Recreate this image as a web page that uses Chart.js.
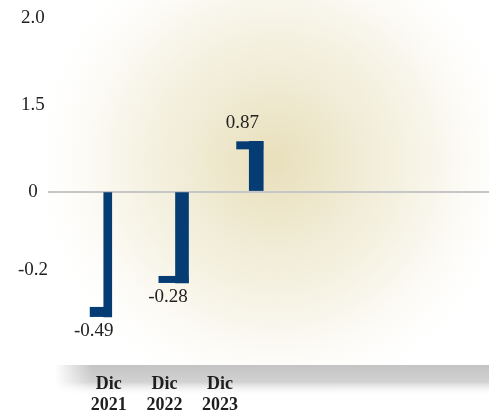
<!DOCTYPE html>
<html>
<head>
<meta charset="utf-8">
<script src="https://cdn.jsdelivr.net/npm/chart.js@4/dist/chart.umd.min.js"></script>
<style>
  html, body { margin: 0; padding: 0; background: #fff; }
  #wrap { width: 489px; height: 416px; position: relative; }
</style>
</head>
<body>
<div id="wrap"><canvas id="myChart"></canvas></div>
<script>
// data
const periods = ['Dic 2021', 'Dic 2022', 'Dic 2023'];
const values = [-0.49, -0.28, 0.87];
const yTickValues = [-0.2, 0, 1.5, 2.0];
const yTickLabels = ['-0.2', '0', '1.5', '2.0'];

// the value axis in the original is broken: piecewise, [value, share of height from bottom]
const yKnots = [[-0.75, 0], [-0.2, 0.261], [0, 0.491], [1.5, 0.745], [2.0, 1]];

// bar look: shaft width, foot width, foot height
const shaftWidths = [8, 13, 14];
const footWidths = [22, 30, 27];
const footHeights = [10, 7, 8];
const navy = '#053c73';
const serif = '"Liberation Serif", "Times New Roman", serif';

const warp = (v) => {
    for (let i = 0; i < yKnots.length - 1; i++) {
        const [v0, f0] = yKnots[i], [v1, f1] = yKnots[i + 1];
        if (v <= v1 || i === yKnots.length - 2) {
            return f0 + (v - v0) / (v1 - v0) * (f1 - f0);
        }
    }
};
const unwarp = (f) => {
    for (let i = 0; i < yKnots.length - 1; i++) {
        const [v0, f0] = yKnots[i], [v1, f1] = yKnots[i + 1];
        if (f <= f1 || i === yKnots.length - 2) {
            return v0 + (f - f0) / (f1 - f0) * (v1 - v0);
        }
    }
};

class BrokenScale extends Chart.LinearScale {
    getPixelForValue(value) {
        return this.getPixelForDecimal(warp(value));
    }
    getValueForPixel(pixel) {
        return unwarp(this.getDecimalForPixel(pixel));
    }
}
BrokenScale.id = 'broken';
BrokenScale.defaults = {};
Chart.register(BrokenScale);

const backdrop = {
    id: 'backdrop',
    beforeDraw(chart) {
        const ctx = chart.ctx;
        const w = chart.width, h = chart.height;
        ctx.save();
        ctx.fillStyle = '#fff';
        ctx.fillRect(0, 0, w, h);
        const glow = ctx.createRadialGradient(275, 162, 0, 275, 162, 250);
        glow.addColorStop(0, '#e8dfbb');
        glow.addColorStop(0.35, '#f1ecd6');
        glow.addColorStop(0.7, '#faf8f0');
        glow.addColorStop(1, 'rgba(255,255,255,0)');
        ctx.fillStyle = glow;
        ctx.fillRect(0, 0, w, h);

        // grey shadow strip behind the period labels
        const top = chart.chartArea.bottom + 6;
        const band = ctx.createLinearGradient(0, top, 0, top + 31);
        band.addColorStop(0, '#c4c4c4');
        band.addColorStop(0.55, '#d2d2d2');
        band.addColorStop(1, 'rgba(255,255,255,0)');
        ctx.fillStyle = band;
        ctx.fillRect(55, top, w - 55, 31);
        const fade = ctx.createLinearGradient(55, 0, 92, 0);
        fade.addColorStop(0, 'rgba(255,255,255,1)');
        fade.addColorStop(1, 'rgba(255,255,255,0)');
        ctx.fillStyle = fade;
        ctx.fillRect(55, top, 37, 31);
        ctx.restore();
    }
};

const feet = {
    id: 'feet',
    afterDatasetsDraw(chart) {
        const ctx = chart.ctx;
        ctx.save();
        chart.data.datasets.forEach((ds, i) => {
            const bar = chart.getDatasetMeta(i).data[0];
            const right = bar.x + bar.width / 2;
            const neg = bar.y > bar.base;
            ctx.fillStyle = navy;
            ctx.fillRect(right - footWidths[i], neg ? bar.y - footHeights[i] : bar.y, footWidths[i], footHeights[i]);

            ctx.fillStyle = '#222';
            ctx.font = '19px ' + serif;
            ctx.textAlign = 'center';
            ctx.textBaseline = 'middle';
            ctx.fillText(values[i].toFixed(2), bar.x - 14, neg ? bar.y + 14 : bar.y - 18);
        });
        ctx.restore();
    }
};

const datasets = values.map((v, i) => ({
    label: periods[i],
    data: [{ x: i, y: v }],
    backgroundColor: navy,
    barThickness: shaftWidths[i],
    grouped: false,
    borderWidth: 0
}));

new Chart(document.getElementById('myChart').getContext('2d'), {
    type: 'bar',
    data: { datasets },
    plugins: [backdrop, feet],
    options: {
        responsive: true,
        maintainAspectRatio: false,
        animation: false,
        layout: { padding: { top: 18, left: 0, right: 0, bottom: 0 } },
        plugins: { legend: { display: false }, tooltip: { enabled: false } },
        scales: {
            x: {
                type: 'linear',
                display: false,
                offset: false,
                min: -0.805,
                max: 5.135
            },
            xl: {
                type: 'linear',
                position: 'bottom',
                offset: false,
                min: -1.09,
                max: 6.828,
                grid: { display: false, drawTicks: false, offset: false },
                border: { display: false },
                afterBuildTicks: (scale) => { scale.ticks = periods.map((p, i) => ({ value: i })); },
                afterFit: (scale) => { scale.height = 57; },
                ticks: {
                    padding: 15,
                    maxRotation: 0,
                    autoSkip: false,
                    color: '#1e1e1e',
                    font: { family: serif, size: 18, weight: 'bold', lineHeight: 1.15 },
                    callback: (v) => periods[v] ? periods[v].split(' ') : ''
                }
            },
            y: {
                type: 'broken',
                min: -0.75,
                max: 2.0,
                afterBuildTicks: (scale) => { scale.ticks = yTickValues.map(v => ({ value: v })); },
                afterFit: (scale) => { scale.width = 48; },
                grid: {
                    drawTicks: false,
                    lineWidth: 2,
                    color: (c) => c.tick && c.tick.value === 0 ? '#c6c6c6' : 'rgba(0,0,0,0)'
                },
                border: { display: false },
                ticks: {
                    padding: 0,
                    crossAlign: 'center',
                    autoSkip: false,
                    color: '#222',
                    font: { family: serif, size: 19 },
                    callback: (v) => yTickLabels[yTickValues.indexOf(v)]
                }
            }
        }
    }
});
</script>
</body>
</html>
